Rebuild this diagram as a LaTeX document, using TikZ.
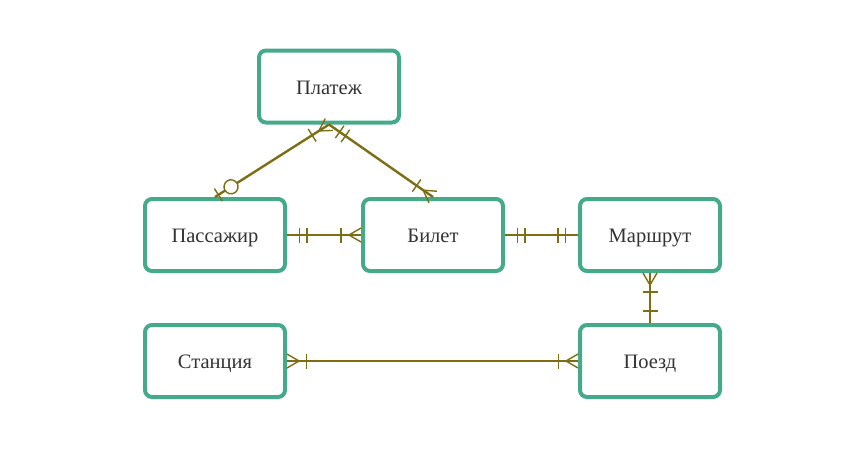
\documentclass[tikz,border=0pt]{standalone}
\usepackage{fontspec}
\setmainfont{Liberation Serif}
\usetikzlibrary{decorations.markings}

\definecolor{boxgreen}{RGB}{68,170,138}
\definecolor{relolive}{RGB}{125,110,20}
\definecolor{txtgray}{RGB}{51,51,51}

\tikzset{
  markpen/.style={draw=relolive, line width=1.4pt},
  to end/.style={postaction={decorate,decoration={markings,mark=at position 1 with {#1}}}},
  from end/.style={postaction={decorate,decoration={markings,mark=at position 0 with {\begin{scope}[xscale=-1]#1\end{scope}}}}}
}
% crow's foot, bar and circle, drawn back from the end of a line
\newcommand{\ercrow}{\draw[markpen] (0pt,7pt) -- (-12pt,0pt) -- (0pt,-7pt);}
\newcommand{\erbar}[1]{\draw[markpen] (-#1pt,-7.5pt) -- (-#1pt,7.5pt);}
\newcommand{\ercirc}[1]{\draw[markpen,fill=white] (-#1pt,0pt) circle (7pt);}

\begin{document}
\begin{tikzpicture}[x=1pt,y=-1pt]
        \tikzstyle{entity}=[rectangle, rounded corners=7pt, draw=boxgreen, line width=4pt, fill=white,
          minimum width=140pt, minimum height=72pt, text=txtgray, text height=15.6pt, text depth=0pt,
          font=\fontsize{20.5}{24}\selectfont]
        \tikzstyle{rel}=[draw=relolive, line width=2.4pt]
        \useasboundingbox (0,0) rectangle (865,475);
        % entities
        \node[entity] (platezh) at (329,86.5) {Платеж};
        \node[entity] (passazhir) at (215,235) {Пассажир};
        \node[entity] (bilet) at (433,235) {Билет};
        \node[entity] (marshrut) at (650,235) {Маршрут};
        \node[entity] (stanciya) at (215,361) {Станция};
        \node[entity] (poezd) at (650,361) {Поезд};
        % relations
        \draw[rel, from end={\ercrow\erbar{20}}, to end={\ercirc{19}\erbar{4}}] (platezh.south) -- (passazhir.north);
        \draw[rel, from end={\erbar{13}\erbar{20}}, to end={\ercrow\erbar{20}}] (platezh.south) -- (bilet.north);
        \draw[rel, from end={\erbar{12.5}\erbar{20}}, to end={\ercrow\erbar{20}}] (passazhir.east) -- (bilet.west);
        \draw[rel, from end={\erbar{12.5}\erbar{20}}, to end={\erbar{12.5}\erbar{20}}] (bilet.east) -- (marshrut.west);
        \draw[rel, from end={\ercrow\erbar{19}}, to end={\erbar{12}}] (marshrut.south) -- (poezd.north);
        \draw[rel, from end={\ercrow\erbar{19.5}}, to end={\ercrow\erbar{19.5}}] (stanciya.east) -- (poezd.west);
\end{tikzpicture}
\end{document}
